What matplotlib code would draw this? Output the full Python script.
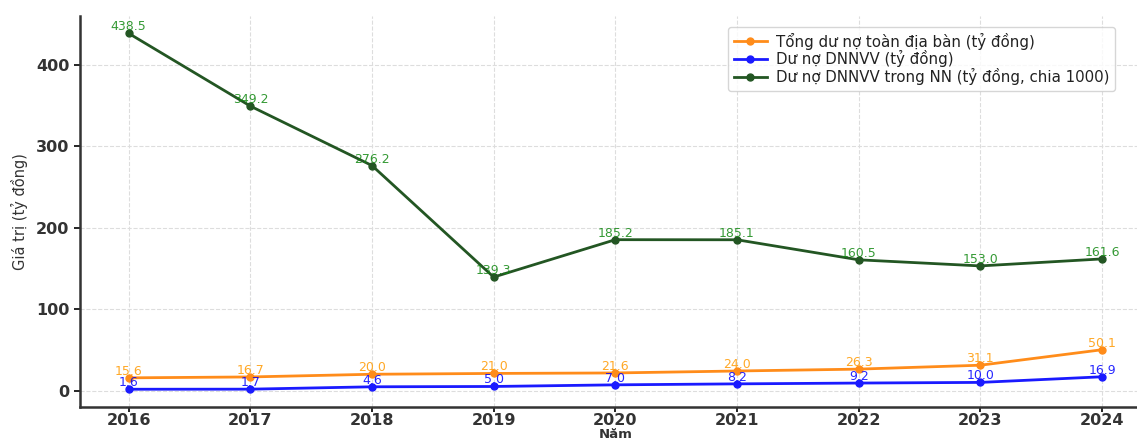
import matplotlib
matplotlib.use("Agg")
import matplotlib.pyplot as plt

years = [2016, 2017, 2018, 2019, 2020, 2021, 2022, 2023, 2024]
tong_du_no = [15.6, 16.7, 20.0, 21.0, 21.6, 24.0, 26.3, 31.1, 50.1]
du_no_dnnvv = [1.6, 1.7, 4.6, 5.0, 7.0, 8.2, 9.2, 10.0, 16.9]
du_no_dnnvv_nn = [438.5, 349.2, 276.2, 139.3, 185.2, 185.1, 160.5, 153.0, 161.6]

labels = ["Tổng dư nợ toàn địa bàn (tỷ đồng)",
          "Dư nợ DNNVV (tỷ đồng)",
          "Dư nợ DNNVV trong NN (tỷ đồng, chia 1000)"]

W, H = 1137, 441
fig = plt.figure(figsize=(W / 100, H / 100), dpi=100)
ax_bottom_px, ax_top_px = 407, 15.6
ax = fig.add_axes([80 / W, (H - ax_bottom_px) / H, (1150.7 - 80) / W,
                   (ax_bottom_px - ax_top_px) / H])

series = [
    (tong_du_no, "#ff8c1a", "#ff9900"),
    (du_no_dnnvv, "#1a1aff", "#0000ff"),
    (du_no_dnnvv_nn, "#235623", "#118811"),
]
for (vals, lc, tc), lab in zip(series, labels):
    ax.plot(years, vals, color=lc, marker="o", markersize=5, linewidth=2, label=lab)
    for x, y in zip(years, vals):
        ax.annotate(f"{y:.1f}", (x, y), textcoords="offset points", xytext=(0, 0),
                    ha="center", va="bottom", fontsize=9, color=tc, alpha=0.85)

ax.set_xlim(2015.6, 2024.4)
ax.set_ylim(-20.2, 460.3)
ax.set_xticks(years)
ax.set_yticks([0, 100, 200, 300, 400])
ax.tick_params(axis="both", labelsize=11.5, width=1.2, length=4)
ax.tick_params(axis="x", pad=0.5, length=3.5)
for t in ax.get_xticklabels() + ax.get_yticklabels():
    t.set_fontweight("bold")
    t.set_color("#333333")
ax.grid(True, color="#dddddd", linestyle="--", linewidth=0.8)
for s in ["top", "right"]:
    ax.spines[s].set_visible(False)
for s in ["left", "bottom"]:
    ax.spines[s].set_linewidth(1.8)
    ax.spines[s].set_color("#333333")

ax.set_ylabel("Giá trị (tỷ đồng)", fontsize=10.5, color="#333333", labelpad=6)
ax.set_xlabel("Năm", fontsize=9.5, fontweight="bold", color="#333333")
ax.xaxis.label.set_va("bottom")
ax.xaxis.set_label_coords(0.5, -(H - 0.5 - ax_bottom_px) / (ax_bottom_px - ax_top_px))

leg = ax.legend(loc="upper left", bbox_to_anchor=(720 / W, 1 - 19 / H),
                bbox_transform=fig.transFigure, frameon=True,
                prop={"size": 10.8},
                handlelength=2.2, borderpad=0.4, labelspacing=0.05,
                handletextpad=0.6)
leg.get_frame().set_edgecolor("#cccccc")
for t in leg.get_texts():
    t.set_color("#222222")

fig.savefig("out.png", dpi=100)
